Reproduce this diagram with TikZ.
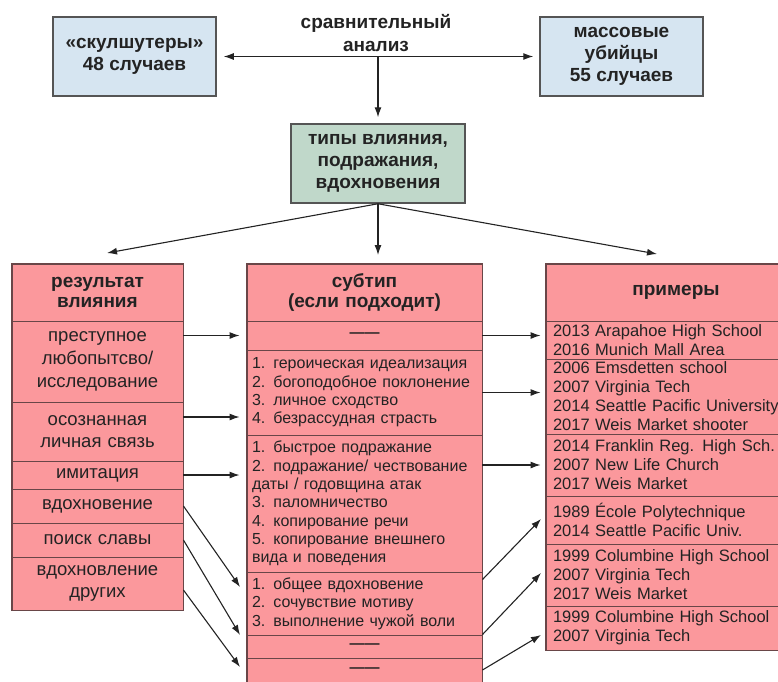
\documentclass[tikz,border=0pt]{standalone}
\usepackage{fontspec}
\setmainfont{Liberation Sans}
\usetikzlibrary{arrows.meta}

\definecolor{topblue}{RGB}{214,229,241}
\definecolor{typegreen}{RGB}{192,216,202}
\definecolor{cellpink}{RGB}{251,152,156}
\definecolor{boxline}{RGB}{85,85,85}
\definecolor{cellline}{RGB}{105,70,72}
\definecolor{inkgray}{RGB}{35,35,35}

\begin{document}
\begin{tikzpicture}[x=1pt, y=-1pt, >={Latex[length=10pt,width=7pt]},
  every node/.style={text=inkgray},
  link/.style={draw=inkgray, line width=1.1pt},
  topbox/.style={draw=boxline, line width=1.5pt, fill=topblue, minimum width=163pt, minimum height=79pt, inner sep=0pt, align=center, font=\fontsize{19}{22}\selectfont\bfseries},
  typebox/.style={topbox, fill=typegreen, minimum width=174pt},
  cell/.style={draw=cellline, line width=0.9pt, fill=cellpink, inner ysep=0pt},
  cellL/.style={cell, inner xsep=6pt, minimum width=171pt, text width=159pt, align=center, font=\fontsize{18.5}{22.7}\selectfont},
  cellM/.style={cell, inner xsep=5pt, minimum width=235pt, text width=225pt, align=left, font=\fontsize{16}{18.3}\selectfont},
  cellR/.style={cell, inner xsep=7pt, minimum width=260pt, text width=246pt, align=left, font=\fontsize{16.5}{19}\selectfont},
  head/.style={minimum height=57pt, align=center, font=\fontsize{19}{20}\selectfont\bfseries},
  nilcell/.style={align=center, font=\fontsize{15}{15}\selectfont\bfseries},
  frame/.style={draw=cellline, line width=1.6pt}
]
\useasboundingbox (0,0) rectangle (778,681);
\clip (0,0) rectangle (778,681);

\node [topbox] (skul) at (134.5,56.5) {«скулшутеры»\\48 случаев};
\node [topbox] (mass) at (621.5,56.5) {массовые\\убийцы\\55 случаев};
\node [font=\fontsize{19}{23}\selectfont\bfseries, align=center] (comp) at (376,33.5) {сравнительный\\анализ};
\coordinate (hub) at (378,57);
\node [typebox] (types) at (378,163.5) {типы влияния,\\подражания,\\вдохновения};

\node [cellL, head] (lh) at (97.5,292.5) {результат\\влияния};
\node [cellL, minimum height=81pt] (l1) at (97.5,361.5) {преступное\\любопытсво/\\исследование};
\node [cellL, minimum height=59pt] (l2) at (97.5,431.5) {осознанная\\личная связь};
\node [cellL, minimum height=28pt] (l3) at (97.5,475) {имитация};
\node [cellL, minimum height=34pt] (l4) at (97.5,506) {вдохновение};
\node [cellL, minimum height=34pt] (l5) at (97.5,540) {поиск славы};
\node [cellL, minimum height=53pt] (l6) at (97.5,583.5) {вдохновление\\других};

\node [cellM, head] (mh) at (364.5,292.5) {субтип\\(если подходит)};
\node [cellM, nilcell, minimum height=29pt] (m1) at (364.5,335.5) {——};
\node [cellM, minimum height=85pt] (m2) at (364.5,392.5) {1. героическая идеализация\\2. богоподобное поклонение\\3. личное сходство\\4. безрассудная страсть};
\node [cellM, minimum height=137pt] (m3) at (364.5,503.5) {1. быстрое подражание\\2. подражание/ чествование\\даты / годовщина атак\\3. паломничество\\4. копирование речи\\5. копирование внешнего\\вида и поведения};
\node [cellM, minimum height=63pt] (m4) at (364.5,603.5) {1. общее вдохновение\\2. сочувствие мотиву\\3. выполнение чужой воли};
\node [cellM, nilcell, minimum height=23pt] (m5) at (364.5,646.5) {——};
\node [cellM, nilcell, minimum height=24pt] (m6) at (364.5,670) {——};

\node [cellR, head] (rh) at (676,292.5) {примеры};
\node [cellR, minimum height=38pt] (r1) at (676,340) {2013 Arapahoe High School\\2016 Munich Mall Area};
\node [cellR, minimum height=75pt] (r2) at (676,396.5) {2006 Emsdetten school\\2007 Virginia Tech\\2014 Seattle Pacific University\\2017 Weis Market shooter};
\node [cellR, minimum height=62pt] (r3) at (676,465) {2014 Franklin Reg. High Sch.\\2007 New Life Church\\2017 Weis Market};
\node [cellR, minimum height=48pt] (r4) at (676,520) {1989 École Polytechnique\\2014 Seattle Pacific Univ.};
\node [cellR, minimum height=62pt] (r5) at (676,575) {1999 Columbine High School\\2007 Virginia Tech\\2017 Weis Market};
\node [cellR, minimum height=44pt] (r6) at (676,628) {1999 Columbine High School\\2007 Virginia Tech};

\draw [frame] (lh.north west) rectangle (l6.south east);
\draw [frame] (mh.north west) rectangle (m6.south east);
\draw [frame] (rh.north west) rectangle (r6.south east);

\coordinate (lt) at (107,253);
\coordinate (mt) at (378,255);
\coordinate (rt) at (657,254);
\coordinate (d4) at (240,587);
\coordinate (d5) at (240,635);
\coordinate (d6) at (240,667);
\coordinate (e4) at (541,519);
\coordinate (e5) at (541,573);
\coordinate (e6) at (541,635);

\draw [link, <->, shorten <=7pt, shorten >=6pt] (skul) -- (mass);
\draw [link, ->, shorten >=6pt] (hub) -- (types);
\draw [link, ->] (types.south) -- (lt);
\draw [link, ->] (types.south) -- (mt);
\draw [link, ->] (types.south) -- (rt);

\draw [link, ->, shorten >=7pt] (m1.west -| l1.east) -- (m1.west);
\draw [link, ->, shorten >=7pt] ([yshift=14.5pt]l2.east) -- ([yshift=14.5pt]l2.east -| m2.west);
\draw [link, ->, shorten >=7pt] (l3.east) -- (l3.east -| m3.west);
\draw [link, ->] (l4.east) -- (d4);
\draw [link, ->] (l5.east) -- (d5);
\draw [link, ->] ([yshift=-6.5pt]l6.east) -- (d6);

\draw [link, ->, shorten >=5pt] (m1.east) -- (m1.east -| r1.west);
\draw [link, ->, shorten >=5pt] (m2.east) -- (m2.east -| r2.west);
\draw [link, ->, shorten >=5pt] (r3.west -| m3.east) -- (r3.west);
\draw [link, ->] ([yshift=-8pt]m4.north east) -- (e4);
\draw [link, ->] (m5.north east) -- (e5);
\draw [link, ->] (m6.east) -- (e6);
\end{tikzpicture}
\end{document}
